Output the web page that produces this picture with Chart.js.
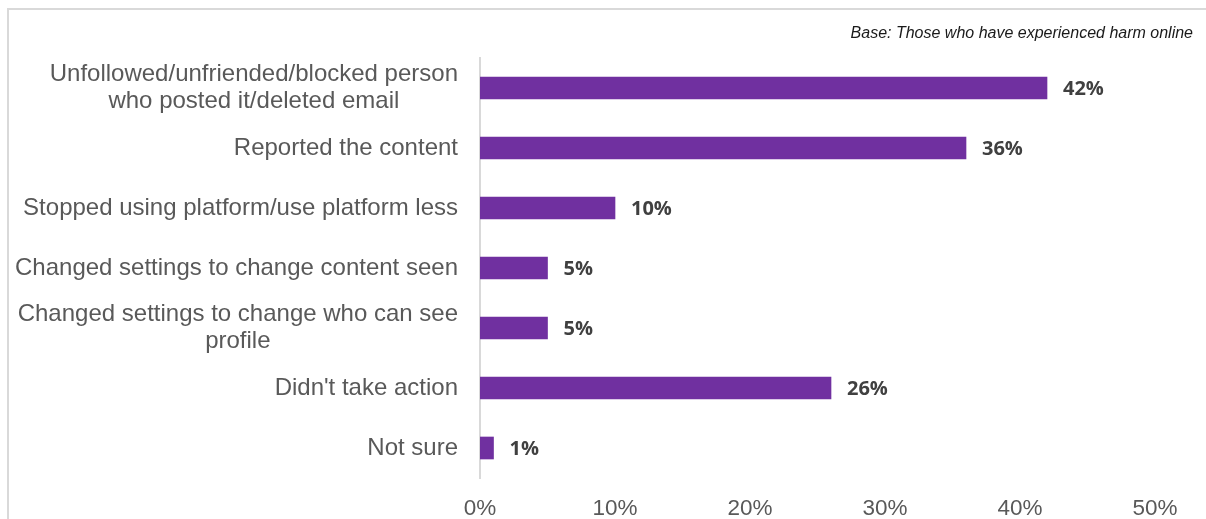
<!DOCTYPE html>
<html>
<head>
<meta charset="utf-8">
<script src="https://cdn.jsdelivr.net/npm/chart.js@4.4.0/dist/chart.umd.min.js"></script>
<style>
  html, body { margin: 0; padding: 0; background: #ffffff; overflow: hidden; }
  #wrap { position: relative; width: 1206px; height: 519px; }
  #frame {
    position: absolute; left: 7px; top: 8px; width: 1300px; height: 600px;
    border: 2px solid #d9d9d9; pointer-events: none; box-sizing: border-box;
  }
  canvas { display: block; }
</style>
</head>
<body>
<div id="wrap">
  <canvas id="chart" width="1206" height="519"></canvas>
  <div id="frame"></div>
</div>
<script>
// Actions taken after experiencing harm online (% of respondents)
const categories = [
  ['Unfollowed/unfriended/blocked person', 'who posted it/deleted email'],
  ['Reported the content'],
  ['Stopped using platform/use platform less'],
  ['Changed settings to change content seen'],
  ['Changed settings to change who can see', 'profile'],
  ["Didn't take action"],
  ['Not sure']
];
const values = [42, 36, 10, 5, 5, 26, 1];
const axisTicks = [0, 10, 20, 30, 40, 50];
const baseNote = 'Base: Those who have experienced harm online';

const PURPLE = '#7030a0';
const LABEL_FONT = '"Liberation Sans", Arial, sans-serif';

// Draws the category names, the value labels and the base note
const annotate = {
  id: 'annotate',
  afterDatasetsDraw(chart) {
    const ctx = chart.ctx;
    const yScale = chart.scales.y;
    const meta = chart.getDatasetMeta(0);

    ctx.save();
    // category names, right-aligned block; wrapped lines centred within it
    ctx.font = '24px ' + LABEL_FONT;
    ctx.fillStyle = '#595959';
    ctx.textBaseline = 'middle';
    ctx.textAlign = 'center';
    const rightEdge = chart.chartArea.left - 22;
    const lineGap = 27;
    categories.forEach((lines, i) => {
      const yc = yScale.getPixelForValue(i);
      const maxW = Math.max(...lines.map(l => ctx.measureText(l).width));
      const cx = rightEdge - maxW / 2;
      const y0 = yc - (lines.length - 1) * lineGap / 2;
      lines.forEach((l, k) => ctx.fillText(l, cx, y0 + k * lineGap));
    });

    // value labels next to bar ends
    ctx.font = 'bold 20px "Open Sans", sans-serif';
    ctx.fillStyle = '#404040';
    ctx.textAlign = 'left';
    meta.data.forEach((bar, i) => {
      ctx.fillText(values[i] + '%', bar.x + 16, bar.y + 1);
    });

    // base note, top right
    ctx.font = 'italic 16px ' + LABEL_FONT;
    ctx.fillStyle = '#1a1a1a';
    ctx.textAlign = 'right';
    ctx.textBaseline = 'alphabetic';
    ctx.fillText(baseNote, 1193, 38);
    ctx.restore();
  }
};

new Chart(document.getElementById('chart'), {
  type: 'bar',
  data: {
    labels: categories.map(c => c.join(' ')),
    datasets: [{
      data: values,
      backgroundColor: PURPLE,
      borderWidth: 0,
      barThickness: 22
    }]
  },
  options: {
    indexAxis: 'y',
    responsive: false,
    animation: false,
    layout: { padding: { left: 480, right: 51, top: 58, bottom: 0 } },
    plugins: {
      legend: { display: false },
      tooltip: { enabled: false },
      title: { display: false }
    },
    scales: {
      x: {
        type: 'linear',
        min: axisTicks[0],
        max: axisTicks[axisTicks.length - 1],
        afterBuildTicks(scale) {
          scale.ticks = axisTicks.map(v => ({ value: v }));
        },
        afterFit(scale) { scale.height = 41; },
        grid: { display: false, drawTicks: false },
        border: { display: false },
        ticks: {
          padding: 17,
          color: '#595959',
          font: { family: LABEL_FONT, size: 22.5 },
          maxRotation: 0,
          callback: v => v + '%'
        }
      },
      y: {
        type: 'category',
        afterFit(scale) { scale.width = 0; },
        grid: { display: false, drawTicks: false },
        border: { display: true, color: '#d9d9d9', width: 2 },
        ticks: { display: false }
      }
    }
  },
  plugins: [annotate]
});
</script>
</body>
</html>
